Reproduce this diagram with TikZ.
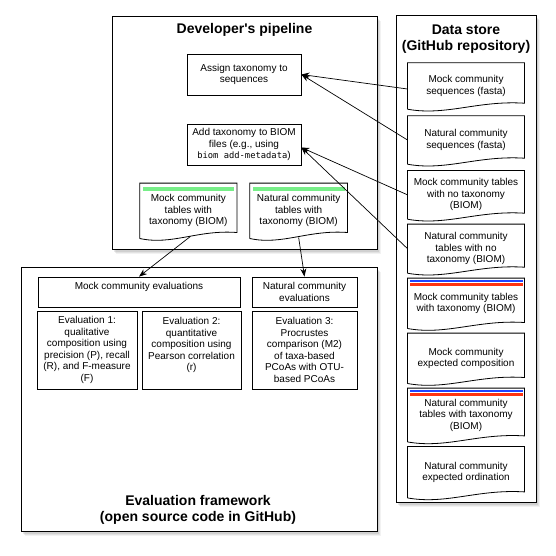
\documentclass[tikz,border=0pt]{standalone}
\usepackage{fontspec}
\setmainfont{Liberation Sans}
\setmonofont{DejaVu Sans Mono}
\usetikzlibrary{arrows.meta,calc,shadows}
\definecolor{gbar}{HTML}{77EE88}
\definecolor{bbar}{HTML}{2244FF}
\definecolor{rbar}{HTML}{FF3311}
\tikzset{
  frame/.style={draw, line width=1pt, fill=white, inner sep=0pt,
    drop shadow={shadow xshift=4pt, shadow yshift=-5pt, opacity=0.10},
    drop shadow={shadow xshift=3pt, shadow yshift=-4pt, opacity=0.14},
    drop shadow={shadow xshift=2pt, shadow yshift=-3pt, opacity=0.18}},
  box/.style={draw, line width=0.8pt, align=center, inner sep=0pt,
    font=\fontsize{10}{11.5}\selectfont},
  doctext/.style={align=center, inner sep=0pt, font=\fontsize{10}{11.5}\selectfont},
  titletext/.style={align=center, inner sep=0pt, font=\fontsize{14}{16}\selectfont\bfseries},
  arr/.style={line width=0.7pt, -{Stealth[length=8pt,width=6pt]}},
  docline/.style={line width=0.8pt},
}
\newcommand\docout[1]{%
  \draw[docline] (#1.south west) -- (#1.north west) -- (#1.north east)
    -- ([yshift=6pt]#1.south east)
    .. controls ($(#1.south west)!0.6!(#1.south east)+(0,-9)$)
    and ($(#1.south west)!0.33!(#1.south east)+(0,7)$) .. (#1.south west);}
\newcommand\greenbar[1]{%
  \fill[gbar] ($(#1.north west)+(3,3.4)$) rectangle ($(#1.north east)+(-3,7.4)$);}
\newcommand\bluered[1]{%
  \fill[bbar] ($(#1.north west)+(2.3,1.8)$) rectangle ($(#1.north east)+(-1.8,4)$);
  \fill[rbar] ($(#1.north west)+(2.3,5.2)$) rectangle ($(#1.north east)+(-1.8,7.5)$);}
\begin{document}
\begin{tikzpicture}[x=1pt,y=-1pt]
\useasboundingbox (0,0) rectangle (556,555);
% frames
\node[frame, minimum width=265pt, minimum height=233pt] (pipe) at (244.5,132.5) {};
\node[frame, minimum width=140pt, minimum height=487pt] (store) at (466,258.5) {};
\node[frame, minimum width=356pt, minimum height=264pt] (evalf) at (199,399) {};
% titles
\node[titletext] (pipetitle) at (244.5,30) {Developer\textquotesingle s pipeline};
\node[titletext] (storetitle) at (466,39) {Data store\\(GitHub repository)};
\node[titletext] (evaltitle) at (198,510) {Evaluation framework\\(open source code in GitHub)};
% pipeline boxes
\node[box, minimum width=114pt, minimum height=41pt] (assign) at (244,74.5) {Assign taxonomy to\\sequences};
\node[box, minimum width=114pt, minimum height=41pt] (add) at (244,144.5)
  {Add taxonomy to BIOM\\files (e.g., using\\{\ttfamily\fontsize{8.8}{11.5}\selectfont biom add-metadata})};
\node[doctext, minimum width=96.7pt, minimum height=55pt] (pmock) at (188.35,210.8) {Mock community\\tables with\\taxonomy (BIOM)};
\node[doctext, minimum width=97.3pt, minimum height=55pt] (pnat) at (298.65,210.8) {Natural community\\tables with\\taxonomy (BIOM)};
\docout{pmock}\greenbar{pmock}
\docout{pnat}\greenbar{pnat}
% data store documents
\node[doctext, minimum width=116.6pt, minimum height=46pt] (ds1) at (466,86) {Mock community\\sequences (fasta)};
\node[doctext, minimum width=116.6pt, minimum height=48pt] (ds2) at (466,140) {Natural community\\sequences (fasta)};
\node[doctext, minimum width=116.6pt, minimum height=48.3pt] (ds3) at (466,194.85) {Mock community tables\\with no taxonomy\\(BIOM)};
\node[doctext, minimum width=116.6pt, minimum height=48.7pt] (ds4) at (466,248.65) {Natural community\\tables with no\\taxonomy (BIOM)};
\node[doctext, minimum width=116.6pt, minimum height=50pt] (ds5) at (466,303.3) {Mock community tables\\with taxonomy (BIOM)};
\node[doctext, minimum width=116.6pt, minimum height=50pt] (ds6) at (466,358.3) {Mock community\\expected composition};
\node[doctext, minimum width=116.6pt, minimum height=53.4pt] (ds7) at (466,415) {Natural community\\tables with taxonomy\\(BIOM)};
\node[doctext, minimum width=116.6pt, minimum height=51pt] (ds8) at (466,472.2) {Natural community\\expected ordination};
\docout{ds1}\docout{ds2}\docout{ds3}\docout{ds4}
\docout{ds5}\docout{ds6}\docout{ds7}\docout{ds8}
\bluered{ds5}\bluered{ds7}
% evaluation boxes
\node[box, minimum width=202pt, minimum height=30pt] (mockeval) at (139,292) {Mock community evaluations\\\mbox{}};
\node[box, minimum width=105pt, minimum height=30pt] (nateval) at (304.5,292) {Natural community\\evaluations};
\node[box, minimum width=100pt, minimum height=78pt] (ev1) at (87,350)
  {Evaluation 1:\\qualitative\\composition using\\precision (P), recall\\(R), and F-measure\\(F)};
\node[box, minimum width=99pt, minimum height=78pt] (ev2) at (191.5,350)
  {Evaluation 2:\\quantitative\\composition using\\Pearson correlation\\(r)\\\mbox{}};
\node[box, minimum width=105pt, minimum height=78pt] (ev3) at (304.5,350)
  {Evaluation 3:\\Procrustes\\comparison (M2)\\of taxa-based\\PCoAs with OTU-\\based PCoAs};
% connectors
\draw[arr] ([yshift=-3pt]ds1.west) -- (assign.east);
\draw[arr] (ds2.west) -- (assign.east);
\draw[arr] (ds3.west) -- ([yshift=-3pt]add.east);
\draw[arr] (ds4.west) -- ([yshift=-3pt]add.east);
\draw[arr] ([xshift=2pt,yshift=2pt]pmock.south) -- (mockeval.north);
\draw[arr] ([yshift=1pt]pnat.south) -- (nateval.north);
\end{tikzpicture}
\end{document}
